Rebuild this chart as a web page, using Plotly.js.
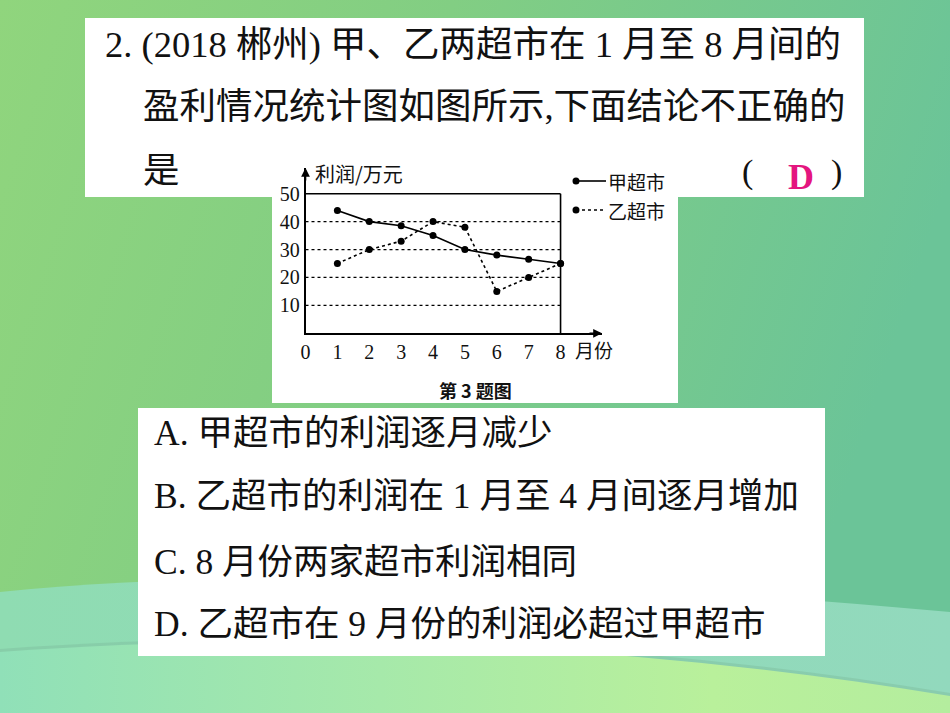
<!DOCTYPE html>
<html>
<head>
<meta charset="utf-8">
<script src="https://cdn.plot.ly/plotly-3.0.1.min.js"></script>
<style>
  html, body { margin: 0; padding: 0; background: #7ccc88; }
  #chart { width: 950px; height: 713px; }
</style>
</head>
<body>
<div id="chart"></div>
<script>
// values
const months = [1, 2, 3, 4, 5, 6, 7, 8];
const jiaProfit = [44, 40, 38.5, 35, 30, 28, 26.5, 25];
const yiProfit = [25, 30, 33, 40, 38, 15, 20, 25];
const xTickVals = [0, 1, 2, 3, 4, 5, 6, 7, 8];
const xTickText = ['0', '1', '2', '3', '4', '5', '6', '7', '8'];
const yTickVals = [10, 20, 30, 40, 50];
const gridVals = [10, 20, 30, 40];
const seriesNames = ['甲超市', '乙超市'];

const questionLines = [
  '2. (2018 郴州) 甲、乙两超市在 1 月至 8 月间的',
  '盈利情况统计图如图所示,下面结论不正确的',
  '是'
];
const answer = 'D';
const optionLines = [
  'A. 甲超市的利润逐月减少',
  'B. 乙超市的利润在 1 月至 4 月间逐月增加',
  'C. 8 月份两家超市利润相同',
  'D. 乙超市在 9 月份的利润必超过甲超市'
];
const yTitle = '利润/万元';
const xTitle = '月份';
const caption = '第 3 题图';

const W = 950, H = 713;
const px = x => x / W;
const py = y => 1 - y / H;

const SERIF = 'Liberation Serif, Noto Sans CJK SC, serif';
const CJK = 'Noto Sans CJK SC, sans-serif';

// page background (gradient + waves) as an svg image
const bgSvg =
  '<svg xmlns="http://www.w3.org/2000/svg" width="950" height="713" viewBox="0 0 950 713">' +
  '<defs>' +
  '<linearGradient id="g" x1="0" y1="0" x2="1" y2="0.25">' +
  '<stop offset="0" stop-color="#90d57d"/><stop offset="0.45" stop-color="#82ce83"/>' +
  '<stop offset="1" stop-color="#6bc498"/></linearGradient>' +
  '<linearGradient id="m" x1="0" y1="0" x2="1" y2="0">' +
  '<stop offset="0" stop-color="#8fdcb2"/><stop offset="1" stop-color="#92d9bd"/></linearGradient>' +
  '<linearGradient id="y" x1="0" y1="0" x2="1" y2="0">' +
  '<stop offset="0" stop-color="#90e0b8"/><stop offset="0.4" stop-color="#a6e9aa"/>' +
  '<stop offset="0.75" stop-color="#b9f09b"/><stop offset="1" stop-color="#b4ed9e"/></linearGradient>' +
  '</defs>' +
  '<rect width="950" height="713" fill="url(#g)"/>' +
  '<path d="M0,592 C300,562 650,585 950,612 L950,713 L0,713 Z" fill="url(#m)"/>' +
  '<path d="M0,652 C300,630 620,642 950,696 L950,713 L0,713 Z" fill="#7fbf9f" opacity="0.5" transform="translate(0,-3)"/>' +
  '<path d="M0,652 C300,630 620,642 950,696 L950,713 L0,713 Z" fill="url(#y)"/>' +
  '</svg>';

const traces = [
  {
    x: months, y: jiaProfit, name: seriesNames[0],
    mode: 'lines+markers', type: 'scatter',
    line: {color: '#000', width: 1.6},
    marker: {color: '#000', size: 7},
    showlegend: false
  },
  {
    x: months, y: yiProfit, name: seriesNames[1],
    mode: 'lines+markers', type: 'scatter',
    line: {color: '#000', width: 1.6, dash: 'dot'},
    marker: {color: '#000', size: 7},
    showlegend: false
  }
];

const shapes = [
  // white panels
  {type: 'rect', xref: 'paper', yref: 'paper', x0: px(85), x1: px(864), y0: py(18), y1: py(197),
   fillcolor: '#fff', line: {width: 0}, layer: 'below'},
  {type: 'rect', xref: 'paper', yref: 'paper', x0: px(272), x1: px(678), y0: py(150), y1: py(403),
   fillcolor: '#fff', line: {width: 0}, layer: 'below'},
  {type: 'rect', xref: 'paper', yref: 'paper', x0: px(138), x1: px(825), y0: py(408), y1: py(656),
   fillcolor: '#fff', line: {width: 0}, layer: 'below'},
  // frame top and right
  {type: 'line', xref: 'x', yref: 'y', x0: 0, x1: months[months.length - 1], y0: 50, y1: 50,
   line: {color: '#000', width: 1.6}},
  {type: 'line', xref: 'x', yref: 'y', x0: months[months.length - 1], x1: months[months.length - 1], y0: 0, y1: 50,
   line: {color: '#000', width: 1.6}},
  // legend samples
  {type: 'line', xref: 'paper', yref: 'paper', x0: px(576), x1: px(606), y0: py(181), y1: py(181),
   line: {color: '#000', width: 1.6}},
  {type: 'line', xref: 'paper', yref: 'paper', x0: px(576), x1: px(606), y0: py(210), y1: py(210),
   line: {color: '#000', width: 1.4, dash: 'dot'}},
  {type: 'circle', xref: 'paper', yref: 'paper', x0: px(572.5), x1: px(579.5), y0: py(177.5), y1: py(184.5),
   fillcolor: '#000', line: {width: 0}},
  {type: 'circle', xref: 'paper', yref: 'paper', x0: px(572.5), x1: px(579.5), y0: py(206.5), y1: py(213.5),
   fillcolor: '#000', line: {width: 0}}
];

// dotted grid only inside the frame
gridVals.forEach(v => {
  shapes.push({type: 'line', xref: 'x', yref: 'y', x0: 0, x1: months[months.length - 1], y0: v, y1: v,
    line: {color: '#000', width: 1.2, dash: 'dot'}, layer: 'below'});
});

const annotations = [];
const textNote = (text, x, y, size, extra) => Object.assign({
  text: text, xref: 'paper', yref: 'paper', x: px(x), y: py(y),
  xanchor: 'left', yanchor: 'middle', showarrow: false,
  font: {family: SERIF, size: size, color: '#111'}
}, extra || {});

annotations.push(textNote(questionLines[0], 103, 44, 36.5));
annotations.push(textNote(questionLines[1], 141, 107, 36.5));
annotations.push(textNote(questionLines[2], 141, 170, 36.5));
annotations.push(textNote('(', 740, 172, 34));
annotations.push(textNote(')', 829, 172, 34));
annotations.push(textNote(answer, 786, 177, 34, {font: {family: SERIF, size: 36, color: '#e4157f', weight: 'bold'}}));

[433, 496, 562, 624].forEach((y, i) => {
  annotations.push(textNote(optionLines[i], 152, y, 35.5));
});

annotations.push(textNote(yTitle, 313, 173, 20, {font: {family: CJK, size: 20, color: '#111'}}));
annotations.push(textNote(xTitle, 573, 350, 19, {font: {family: CJK, size: 19, color: '#111'}}));
annotations.push(textNote(seriesNames[0], 606, 181, 19, {font: {family: CJK, size: 19, color: '#111'}}));
annotations.push(textNote(seriesNames[1], 606, 210, 19, {font: {family: CJK, size: 19, color: '#111'}}));
annotations.push(textNote(caption, 475, 390, 18,
  {xanchor: 'center', font: {family: CJK, size: 18, color: '#111', weight: 'bold'}}));

// axis arrowheads
annotations.push({xref: 'x', yref: 'y', x: 9.3, y: 0, ax: -14, ay: 0, text: '', showarrow: true,
  arrowhead: 2, arrowsize: 1.1, arrowwidth: 1.6, arrowcolor: '#000'});
annotations.push({xref: 'x', yref: 'y', x: 0, y: 59.2, ax: 0, ay: 14, text: '', showarrow: true,
  arrowhead: 2, arrowsize: 1.1, arrowwidth: 1.6, arrowcolor: '#000'});

const layout = {
  width: W, height: H,
  margin: {l: 0, r: 0, t: 0, b: 0},
  paper_bgcolor: '#7ccc88',
  plot_bgcolor: 'rgba(0,0,0,0)',
  showlegend: false,
  images: [{
    source: 'data:image/svg+xml;charset=utf-8,' + encodeURIComponent(bgSvg),
    xref: 'paper', yref: 'paper', x: 0, y: 1, sizex: 1, sizey: 1,
    sizing: 'stretch', xanchor: 'left', yanchor: 'top', layer: 'below'
  }],
  xaxis: {
    domain: [px(305.5), px(602)],
    range: [0, 9.3],
    showline: true, linecolor: '#000', linewidth: 1.6,
    showgrid: false, zeroline: false, ticks: '',
    tickvals: xTickVals, ticktext: xTickText,
    tickfont: {family: SERIF, size: 20, color: '#111'},
    fixedrange: true
  },
  yaxis: {
    domain: [py(333.3), py(168)],
    range: [0, 59.2],
    showline: true, linecolor: '#000', linewidth: 1.6,
    showgrid: false, zeroline: false, ticks: '',
    tickvals: yTickVals,
    tickfont: {family: SERIF, size: 20, color: '#111'},
    fixedrange: true
  },
  shapes: shapes,
  annotations: annotations
};

const config = {displayModeBar: false, responsive: false};

Plotly.newPlot('chart', traces, layout, config);
</script>
</body>
</html>
